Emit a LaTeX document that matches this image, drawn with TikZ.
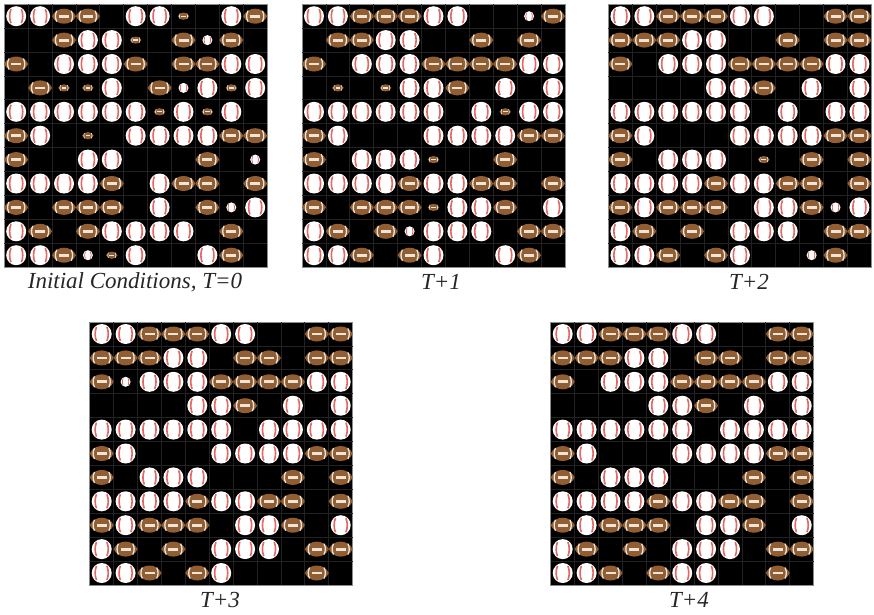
\documentclass[tikz,border=0pt]{standalone}
\usepackage{fontspec}
\setmainfont{Liberation Serif}
\usetikzlibrary{calc}
\definecolor{brownF}{RGB}{144,94,50}
\definecolor{seam}{RGB}{226,104,98}
\definecolor{lace}{RGB}{238,228,216}
\definecolor{gridc}{RGB}{34,34,34}
\definecolor{edgec}{RGB}{140,140,140}
\tikzset{
  panelbox/.style={fill=black,draw=edgec,line width=0.8pt,minimum width=263pt,minimum height=263pt,anchor=north west,inner sep=0pt,outer sep=0pt},
  caption/.style={font=\itshape\fontsize{23}{25}\selectfont,text=black!85,inner sep=0pt,anchor=center},
  seamline/.style={draw=seam},
  laceline/.style={draw=lace},
}
% cell drawers: #1 = x, #2 = y, in pixels
\newcommand{\ballshape}[3]{%
  \begin{scope}[shift={(#1,#2)},scale=#3]
    \fill[white] (0,0) circle (10);
    \draw[seamline,line width=#3*1.6pt] (-5.2,-7) .. controls (-7,-3) and (-7,3) .. (-5.2,7);
    \draw[seamline,line width=#3*1.6pt] (5.2,-7) .. controls (7,-3) and (7,3) .. (5.2,7);
  \end{scope}}
\newcommand{\footshape}[3]{%
  \begin{scope}[shift={(#1,#2)},scale=#3]
    \fill[brownF] (-12,0) .. controls (-7.5,-10) and (7.5,-10) .. (12,0) .. controls (7.5,10) and (-7.5,10) .. (-12,0) -- cycle;
    \draw[laceline,line width=#3*1.3pt] (-7.2,-5.4) .. controls (-9,-2) and (-9,2) .. (-7.2,5.4);
    \draw[laceline,line width=#3*1.3pt] (7.2,-5.4) .. controls (9,-2) and (9,2) .. (7.2,5.4);
    \fill[lace] (-5,-1.4) rectangle (5,1.4);
  \end{scope}}
\newcommand{\cellB}[2]{\ballshape{#1}{#2}{1}}
\newcommand{\cellb}[2]{\ballshape{#1}{#2}{0.5}}
\newcommand{\cellF}[2]{\footshape{#1}{#2}{1}}
\newcommand{\cellf}[2]{\footshape{#1}{#2}{0.48}}
\newcommand{\celle}[2]{}
% #1 name, #2 left, #3 top, #4 rows
\newcommand{\panelgrid}[4]{%
  \node[panelbox] (#1) at (#2,#3) {};
  \foreach \k in {1,...,10}{
    \draw[gridc,line width=0.7pt] ($(#2,#3)+(\k*23.9,0)$) -- ++(0,263);
    \draw[gridc,line width=0.7pt] ($(#2,#3)+(0,\k*23.9)$) -- ++(263,0);
  }
  \foreach \row [count=\j from 0] in {#4}{
    \foreach \c [count=\i from 0] in \row {
      \pgfmathsetmacro{\cx}{#2+12+23.9*\i}
      \pgfmathsetmacro{\cy}{#3+12+23.9*\j}
      \csname cell\c\endcsname{\cx}{\cy}
    }
  }
}
\begin{document}
\begin{tikzpicture}[x=1pt,y=-1pt]
\useasboundingbox (0,0) rectangle (874,614);
\fill[white] (0,0) rectangle (874,614);
\panelgrid{pa}{4.2}{4.2}{
{B,B,F,F,e,B,B,f,e,B,F},
{e,e,F,B,B,f,e,F,b,F,e},
{F,e,B,B,B,F,e,F,F,B,B},
{e,F,f,f,B,e,F,b,B,f,B},
{B,B,B,B,B,B,f,B,f,B,e},
{F,B,e,f,e,B,B,B,B,F,F},
{F,e,e,B,B,e,e,e,F,e,b},
{B,B,B,B,F,e,B,F,F,e,F},
{F,e,F,F,F,e,B,e,F,b,B},
{B,F,e,F,B,B,B,B,e,F,e},
{B,B,F,b,f,B,e,e,B,F,e}}
\panelgrid{pb}{302}{4.2}{
{B,B,F,F,F,B,B,e,e,b,F},
{e,F,F,B,B,e,e,F,e,F,e},
{F,e,B,B,B,F,F,F,F,B,B},
{e,f,e,f,B,B,F,e,B,e,B},
{B,B,B,B,B,B,e,B,f,B,B},
{F,B,e,e,e,B,B,B,B,F,F},
{F,e,B,B,B,f,e,e,F,e,e},
{B,B,B,B,F,B,B,F,F,e,F},
{F,e,F,F,F,f,B,B,F,e,B},
{B,F,e,F,b,B,B,B,e,F,F},
{B,B,F,e,F,B,e,e,B,F,e}}
\panelgrid{pc}{608.4}{4.2}{
{B,B,F,F,F,B,B,e,e,F,F},
{F,F,F,B,B,e,e,F,e,F,F},
{F,e,B,B,B,F,F,F,F,B,B},
{e,e,e,e,B,B,F,e,B,e,B},
{B,B,B,B,B,B,e,B,e,B,B},
{F,B,e,e,e,B,B,B,B,F,F},
{F,e,B,B,B,e,f,e,F,e,F},
{B,B,B,B,F,B,B,F,F,e,F},
{F,B,F,F,F,e,B,B,F,b,B},
{B,F,e,F,e,B,B,B,e,F,F},
{B,B,F,e,F,B,e,e,b,F,e}}
\panelgrid{pd}{89.7}{322}{
{B,B,F,F,F,B,B,e,e,F,F},
{F,F,F,B,B,e,F,F,e,F,F},
{F,b,B,B,B,F,F,F,F,B,B},
{e,e,e,e,B,B,F,e,B,e,B},
{B,B,B,B,B,B,e,B,B,B,B},
{F,B,e,e,e,B,B,B,B,F,F},
{F,e,B,B,B,e,e,e,F,e,F},
{B,B,B,B,F,B,B,F,F,e,F},
{F,B,F,F,F,e,B,B,F,e,B},
{B,F,e,F,e,B,B,B,e,F,F},
{B,B,F,e,F,B,e,e,e,F,e}}
\panelgrid{pe}{550.7}{322}{
{B,B,F,F,F,B,B,e,e,F,F},
{F,F,F,B,B,e,F,F,e,F,F},
{F,e,B,B,B,F,F,F,F,B,B},
{e,e,e,e,B,B,F,e,B,e,B},
{B,B,B,B,B,B,e,B,B,B,B},
{F,B,e,e,e,B,B,B,B,F,F},
{F,e,B,B,B,e,e,e,F,e,F},
{B,B,B,B,F,B,B,F,F,e,F},
{F,B,F,F,F,e,B,B,F,e,B},
{B,F,e,F,e,B,B,B,e,F,F},
{B,B,F,e,F,B,B,e,e,F,e}}
\node[caption] (ca) at (135,282) {Initial Conditions, T=0};
\node[caption] (cb) at (441,282) {T+1};
\node[caption] (cc) at (749,282) {T+2};
\node[caption] (cd) at (220,600) {T+3};
\node[caption] (ce) at (689,600) {T+4};
\end{tikzpicture}
\end{document}
